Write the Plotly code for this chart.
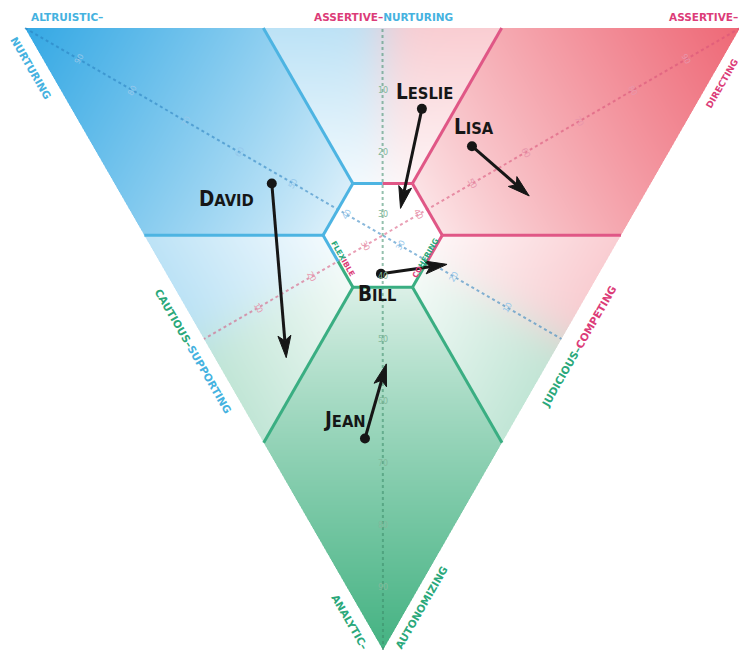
import base64
import struct
import zlib

import numpy as np
import plotly.graph_objects as go

# ---------------- data: SDI scores (blue = Altruistic-Nurturing, red = Assertive-Directing, green = Analytic-Autonomizing)
people = ["Leslie", "Lisa", "David", "Bill", "Jean"]
start_blue = [38, 28, 53, 30.5, 19.5]
start_red = [49, 53, 22, 30, 14.5]
start_green = [13, 19, 25, 39.5, 66]
end_blue = [33, 16, 37, 22, 22.5]
end_red = [38, 57, 10, 40, 23.5]
end_green = [29, 27, 53, 38, 54]
# label offsets (pixels) from each person's starting dot
label_dx = [3, 2, -45, -3.5, -20.5]
label_dy = [16.5, 19, -15.5, -20, 18.5]

axis_ticks = [10, 20, 30, 40, 50, 60, 70, 80, 90]

# ---------------- geometry / style
W, H = 747, 653
OFF = 8  # page body margin compensation
CB = (25.0, 28.0)    # blue corner (top-left)
CR = (740.0, 28.0)   # red corner (top-right)
CG = (383.0, 650.0)  # green corner (bottom)

BLUE = "#45b2e0"
PINK = "#dc3c78"
GREEN = "#2aa87a"
LINE_BLUE = "#4db4e2"
LINE_PINK = "#e05786"
LINE_GREEN = "#3aae82"


def to_xy(b, r, g):
    b = np.asarray(b, float)
    r = np.asarray(r, float)
    g = np.asarray(g, float)
    s = b + r + g
    x = (b * CB[0] + r * CR[0] + g * CG[0]) / s
    y = (b * CB[1] + r * CR[1] + g * CG[1]) / s
    return x, y


# ---------------- background gradient (rendered to a PNG)
def background_png():
    ss = 2
    xs = (np.arange(W * ss) + 0.5) / ss
    ys = (np.arange(H * ss) + 0.5) / ss
    X, Y = np.meshgrid(xs, ys)
    g = (Y - CB[1]) / (CG[1] - CB[1])
    r = (X - CB[0] - (CG[0] - CB[0]) * g) / (CR[0] - CB[0])
    b = 1 - g - r
    inside = (b >= 0) & (r >= 0) & (g >= 0)
    lo, hi = 0.25, 5.0 / 12.0
    hexm = ((b >= lo) & (b <= hi) & (r >= lo) & (r <= hi) & (g >= lo) & (g <= hi))
    m = np.maximum(np.maximum(b, r), g)
    mn = np.minimum(np.minimum(b, r), g)
    inten_primary = np.clip((m - 1 / 3) / (2 / 3), 0, 1) ** 0.8
    # blend regions: two scores above one third
    n_above = (b > 1 / 3).astype(int) + (r > 1 / 3).astype(int) + (g > 1 / 3).astype(int)
    blend = n_above >= 2
    inten_blend = 0.33 * np.clip(1 - 0.8 * mn / 0.25, 0, 1)
    inten = np.where(blend, inten_blend, inten_primary)
    k = 14
    wb = np.clip(b, 1e-6, 1) ** k
    wr = np.clip(r, 1e-6, 1) ** k
    wg = np.clip(g, 1e-6, 1) ** k
    ws = wb + wr + wg
    cb = np.array([52, 168, 228], float)
    cr = np.array([238, 104, 118], float)
    cg = np.array([68, 178, 130], float)
    col = (wb[..., None] * cb + wr[..., None] * cr + wg[..., None] * cg) / ws[..., None]
    img = 255 - inten[..., None] * (255 - col)
    img[~inside] = 255
    img[hexm] = 255
    img = img.reshape(H, ss, W, ss, 3).mean(axis=(1, 3))
    arr = np.clip(np.round(img), 0, 255).astype(np.uint8)
    a16 = arr.astype(np.int16)
    filt = a16.copy()
    filt[:, 1:, :] = a16[:, 1:, :] - a16[:, :-1, :]
    filt = (filt % 256).astype(np.uint8).reshape(H, W * 3)
    rows = np.concatenate([np.ones((H, 1), np.uint8), filt], axis=1)
    raw = zlib.compress(rows.tobytes(), 9)

    def chunk(tag, data):
        c = struct.pack(">I", len(data)) + tag + data
        return c + struct.pack(">I", zlib.crc32(tag + data) & 0xFFFFFFFF)

    png = b"\x89PNG\r\n\x1a\n"
    png += chunk(b"IHDR", struct.pack(">IIBBBBB", W, H, 8, 2, 0, 0, 0))
    png += chunk(b"IDAT", raw)
    png += chunk(b"IEND", b"")
    return "data:image/png;base64," + base64.b64encode(png).decode()


fig = go.Figure()
fig.add_trace(go.Image(source=background_png(), x0=0.5, y0=0.5, dx=1, dy=1,
                       hoverinfo="skip"))

# ---------------- dotted score axes (corner -> opposite side midpoint)
axes = [((100, 0, 0), (0, 50, 50), "rgba(40,125,190,0.55)", "rgba(150,200,235,1)", -60),
        ((0, 100, 0), (50, 0, 50), "rgba(215,80,120,0.55)", "rgba(232,150,172,1)", 60),
        ((0, 0, 100), (50, 50, 0), "rgba(60,140,105,0.55)", "rgba(130,185,155,1)", 0)]
annotations = []
for i, (a0, a1, lc, tc, ang) in enumerate(axes):
    x, y = to_xy([a0[0], a1[0]], [a0[1], a1[1]], [a0[2], a1[2]])
    fig.add_trace(go.Scatter(x=x, y=y, mode="lines", hoverinfo="skip",
                             line=dict(color=lc, width=2, dash="dot")))
    for t in axis_ticks:
        sc = [0.0, 0.0, 0.0]
        sc[i] = t
        for j in range(3):
            if j != i:
                sc[j] = (100 - t) / 2
        tx, ty = to_xy(*sc)
        annotations.append(dict(x=float(tx), y=float(ty), text=str(t), showarrow=False,
                                textangle=ang, font=dict(family="DejaVu Sans", size=8, color=tc)))

# ---------------- region boundaries
T = 1 / 3
F = 5 / 12
Q = 1 / 4
hexv = {"TL": (F, T, Q), "TR": (T, F, Q), "R": (Q, F, T),
        "BR": (Q, T, F), "BL": (T, Q, F), "L": (F, Q, T)}


def mid(p, q):
    return tuple((a + c) / 2 for a, c in zip(p, q))


segments = [
    (hexv["TL"], (2 / 3, 1 / 3, 0), LINE_BLUE),
    (hexv["TR"], (1 / 3, 2 / 3, 0), LINE_PINK),
    (hexv["L"], (2 / 3, 0, 1 / 3), LINE_BLUE),
    (hexv["R"], (0, 2 / 3, 1 / 3), LINE_PINK),
    (hexv["BL"], (1 / 3, 0, 2 / 3), LINE_GREEN),
    (hexv["BR"], (0, 1 / 3, 2 / 3), LINE_GREEN),
    (hexv["TL"], mid(hexv["TL"], hexv["TR"]), LINE_BLUE),
    (mid(hexv["TL"], hexv["TR"]), hexv["TR"], LINE_PINK),
    (hexv["TR"], hexv["R"], LINE_PINK),
    (hexv["R"], mid(hexv["R"], hexv["BR"]), LINE_PINK),
    (mid(hexv["R"], hexv["BR"]), hexv["BR"], LINE_GREEN),
    (hexv["BR"], hexv["BL"], LINE_GREEN),
    (hexv["BL"], mid(hexv["BL"], hexv["L"]), LINE_GREEN),
    (mid(hexv["BL"], hexv["L"]), hexv["L"], LINE_BLUE),
    (hexv["L"], hexv["TL"], LINE_BLUE),
]
for p, q, c in segments:
    x, y = to_xy([p[0], q[0]], [p[1], q[1]], [p[2], q[2]])
    fig.add_trace(go.Scatter(x=x, y=y, mode="lines", hoverinfo="skip",
                             line=dict(color=c, width=3)))

# ---------------- people: dot + arrow
sx, sy = to_xy(start_blue, start_red, start_green)
ex, ey = to_xy(end_blue, end_red, end_green)
HEAD_L, HEAD_W, NOTCH = 22.0, 13.0, 5.0
for i in range(len(people)):
    dx, dy = ex[i] - sx[i], ey[i] - sy[i]
    n = np.hypot(dx, dy)
    ux, uy = dx / n, dy / n
    px, py = -uy, ux
    bx, by = ex[i] - (HEAD_L - NOTCH) * ux, ey[i] - (HEAD_L - NOTCH) * uy
    fig.add_trace(go.Scatter(x=[sx[i], bx], y=[sy[i], by], mode="lines", hoverinfo="skip",
                             line=dict(color="#161616", width=3)))
    hx = [ex[i], ex[i] - HEAD_L * ux + HEAD_W / 2 * px, bx,
          ex[i] - HEAD_L * ux - HEAD_W / 2 * px, ex[i]]
    hy = [ey[i], ey[i] - HEAD_L * uy + HEAD_W / 2 * py, by,
          ey[i] - HEAD_L * uy - HEAD_W / 2 * py, ey[i]]
    fig.add_trace(go.Scatter(x=hx, y=hy, mode="lines", fill="toself", fillcolor="#161616",
                             line=dict(color="#161616", width=1), hoverinfo="skip"))
fig.add_trace(go.Scatter(x=sx, y=sy, mode="markers", hoverinfo="skip",
                         marker=dict(color="#161616", size=10)))

for i, name in enumerate(people):
    up = name.upper()
    txt = up[0] + "<span style='font-size:16.4px'>" + up[1:] + "</span>"
    annotations.append(dict(x=float(sx[i]), y=float(sy[i]), xshift=label_dx[i], yshift=label_dy[i],
                            text=txt, showarrow=False,
                            font=dict(family="DejaVu Sans Condensed", size=20.5, color="#161616",
                                      weight="bold")))


# ---------------- edge labels
def span(t, c):
    return "<span style='color:%s'>%s</span>" % (c, t)


edge_labels = [
    (67, 17, span("ALTRUISTIC–", BLUE), 0, 10.5),
    (383, 17, span("ASSERTIVE–", PINK) + span("NURTURING", BLUE), 0, 10.5),
    (703, 17, span("ASSERTIVE–", PINK), 0, 10.5),
    (31, 68, span("NURTURING", BLUE), 60, 10.5),
    (722, 84, span("DIRECTING", PINK), -60, 9),
    (193.5, 350.5, span("CAUTIOUS–", GREEN) + span("SUPPORTING", BLUE), 60, 10.5),
    (578.5, 347, span("JUDICIOUS–", GREEN) + span("COMPETING", PINK), -60, 10.5),
    (350, 622, span("ANALYTIC–", GREEN), 60, 10.5),
    (421, 608, span("AUTONOMIZING", GREEN), -60, 10.5),
]
for x, y, t, a, fs in edge_labels:
    annotations.append(dict(x=x, y=y, text=t, showarrow=False, textangle=a,
                            font=dict(family="DejaVu Sans", size=fs, weight="bold")))

inner_labels = [
    (343, 258, span("FLEX", GREEN) + span("IBLE", PINK), 60),
    (425, 258, span("CO", PINK) + span("HERING", GREEN), -60),
]
for x, y, t, a in inner_labels:
    annotations.append(dict(x=x, y=y, text=t, showarrow=False, textangle=a,
                            font=dict(family="DejaVu Sans", size=7.5, weight="bold")))

fig.update_layout(
    width=W, height=H,
    margin=dict(l=0, r=0, t=0, b=0),
    paper_bgcolor="white", plot_bgcolor="white",
    showlegend=False,
    xaxis=dict(visible=False, range=[OFF, W + OFF], fixedrange=True),
    yaxis=dict(visible=False, range=[H + OFF, OFF], fixedrange=True),
    annotations=annotations,
)

fig.write_html("out.html")
